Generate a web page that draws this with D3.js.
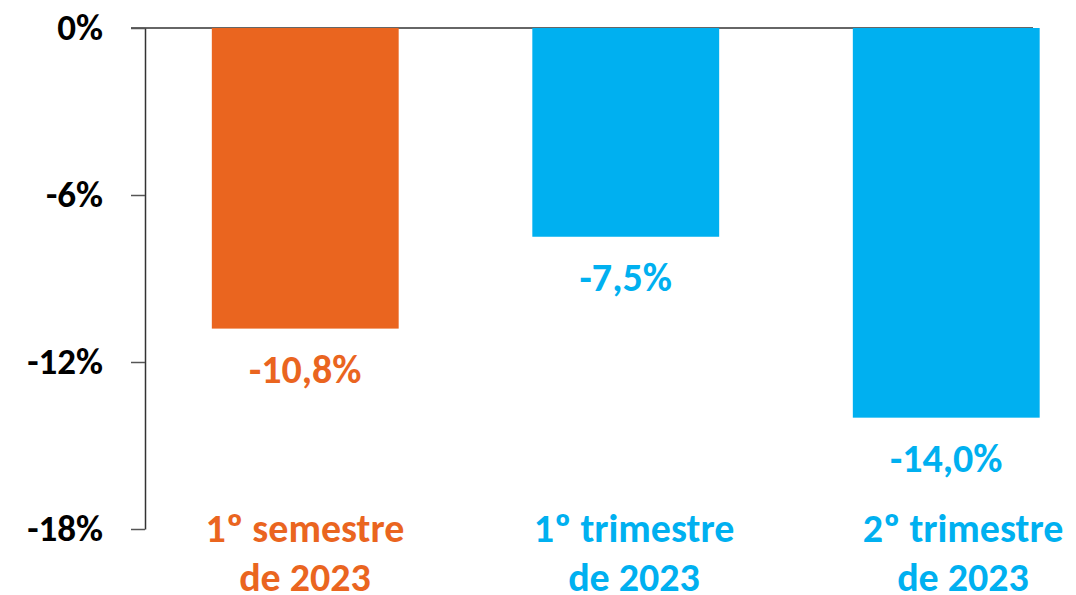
<!DOCTYPE html>
<html>
<head>
<meta charset="utf-8">
<script src="https://cdn.jsdelivr.net/npm/d3@7"></script>
<style>
    body { margin: 0; background: #fff; }
    text { font-family: Carlito, Lato, "Open Sans", sans-serif; font-weight: bold; }
</style>
</head>
<body>
<div id="chart"></div>
<script>
// data
let categories = ["1º semestre de 2023", "1º trimestre de 2023", "2º trimestre de 2023"];
let labelLines = [["1º semestre", "de 2023"], ["1º trimestre", "de 2023"], ["2º trimestre", "de 2023"]];
let values = [-10.8, -7.5, -14.0];
let barColors = ["#EA651F", "#00B0F0", "#00B0F0"];
let yTicks = [0, -6, -12, -18];

let width = 1076, height = 595;

let svg = d3.select("#chart").append("svg")
    .attr("width", width)
    .attr("height", height);

let yScale = d3.scaleLinear().domain([0, -18]).range([28, 529]);
let xScale = d3.scaleBand()
    .domain(categories)
    .range([145, 1106.5])
    .paddingInner(0.417)
    .paddingOuter(0.2085);

// the category labels sit on a slightly wider grid than the bars
let labelScale = d3.scaleBand()
    .domain(categories)
    .range([140.5, 1127.5]);

// top baseline (0%)
svg.append("line")
    .attr("x1", 131).attr("x2", 1033)
    .attr("y1", yScale(0)).attr("y2", yScale(0))
    .attr("stroke", "#333")
    .attr("stroke-width", 1.5);

// y axis
let yAxis = d3.axisLeft(yScale)
    .tickValues(yTicks)
    .tickSize(14)
    .tickSizeOuter(0)
    .tickPadding(28)
    .tickFormat(d => d + "%");

let yAx = svg.append("g")
    .attr("transform", "translate(145,0)")
    .call(yAxis);
yAx.select(".domain").attr("stroke", "#333").attr("stroke-width", 1.5);
yAx.selectAll(".tick line").attr("stroke", "#555").attr("stroke-width", 1.5);
yAx.selectAll(".tick text")
    .style("font-size", "37px")
    .attr("fill", "#000")
    .attr("font-family", null)
    .attr("font-size", null);

// bars
svg.selectAll(".bar")
    .data(values)
    .enter().append("rect")
    .attr("class", "bar")
    .attr("x", (d, i) => xScale(categories[i]))
    .attr("y", yScale(0))
    .attr("width", xScale.bandwidth())
    .attr("height", d => yScale(d) - yScale(0))
    .attr("fill", (d, i) => barColors[i]);

// value labels
svg.selectAll(".valueLabel")
    .data(values)
    .enter().append("text")
    .attr("class", "valueLabel")
    .attr("x", (d, i) => xScale(categories[i]) + xScale.bandwidth() / 2)
    .attr("y", d => yScale(d) + 54)
    .attr("text-anchor", "middle")
    .style("font-size", "40px")
    .attr("fill", (d, i) => barColors[i])
    .text(d => d.toFixed(1).replace(".", ",") + "%");

// category labels
let catLabel = svg.selectAll(".catLabel")
    .data(labelLines)
    .enter().append("text")
    .attr("class", "catLabel")
    .attr("text-anchor", "middle")
    .style("font-size", "40px")
    .attr("fill", (d, i) => barColors[i]);

catLabel.selectAll("tspan")
    .data((d, i) => d.map(t => ({t: t, i: i})))
    .enter().append("tspan")
    .attr("x", d => labelScale(categories[d.i]) + labelScale.bandwidth() / 2)
    .attr("y", (d, j) => 542 + j * 49)
    .text(d => d.t);
</script>
</body>
</html>
